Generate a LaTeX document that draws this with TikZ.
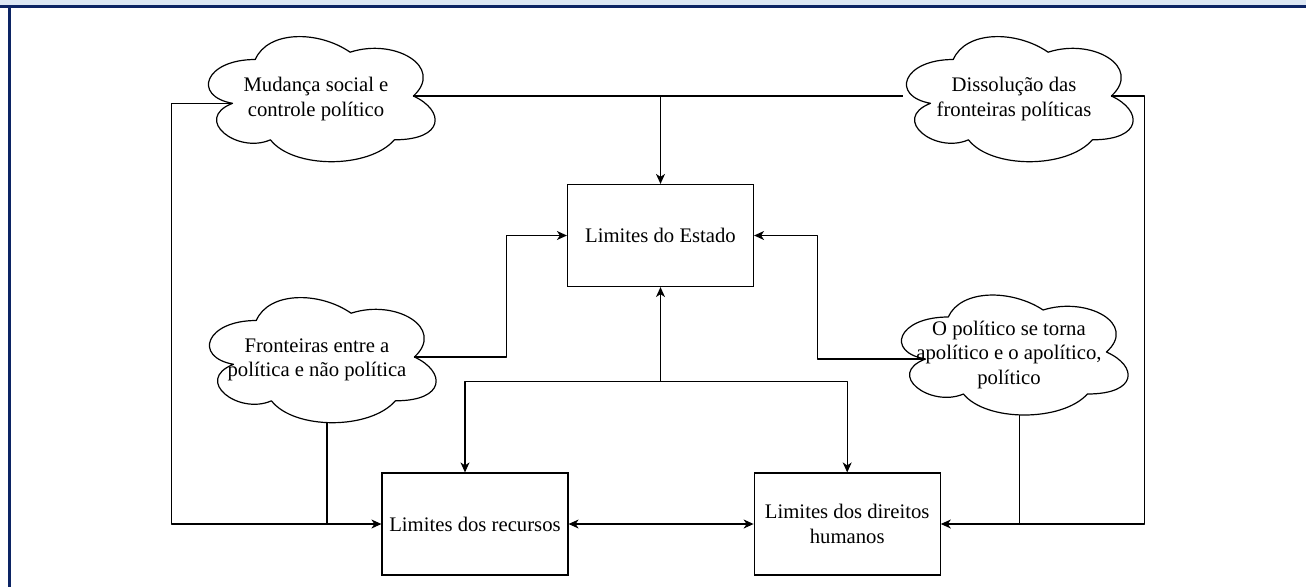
\documentclass[tikz,border=0pt]{standalone}
\usepackage{fontspec}
\setmainfont{Liberation Serif}
\usetikzlibrary{arrows.meta,positioning,calc}
\definecolor{navyline}{RGB}{12,36,100}
\definecolor{topband}{RGB}{220,231,244}

\newcommand{\diagfont}{\fontsize{20.7}{24.5}\selectfont}

\tikzset{
  box/.style={draw, line width=1.2pt, rectangle, minimum width=186pt, minimum height=102pt, align=center, font=\diagfont},
  cloudtext/.style={align=center, font=\diagfont, inner sep=0pt},
  line/.style={line width=1.2pt, line join=round},
  arr/.style={line, -{Stealth[length=10pt,width=9pt,inset=3pt]}},
  dblarr/.style={line, {Stealth[length=10pt,width=9pt,inset=3pt]}-{Stealth[length=10pt,width=9pt,inset=3pt]}},
}

% cloud outline: name, x0, y0, w, h, text
\newcommand{\drawcloud}[6]{%
  \begin{scope}[shift={(#2,#3)}, x=#4pt, y=-#5pt]
    \draw[line] (0.25,0.25) .. controls (0.05,0.25) and (0,0.5) .. (0.16,0.55)
      .. controls (0,0.66) and (0.18,0.9) .. (0.31,0.8)
      .. controls (0.4,1) and (0.7,1) .. (0.8,0.8)
      .. controls (1,0.8) and (1,0.6) .. (0.875,0.5)
      .. controls (1,0.3) and (0.8,0.1) .. (0.625,0.2)
      .. controls (0.5,0.05) and (0.3,0.05) .. (0.25,0.25) -- cycle;
    \node[cloudtext] (#1) at (0.49,0.52) {#6};
    \coordinate (#1-l) at (0.16,0.55);
    \coordinate (#1-lm) at (0.05,0.5);
    \coordinate (#1-r) at (0.875,0.5);
    \coordinate (#1-b) at (0.53,0.95);
  \end{scope}}

\begin{document}
\begin{tikzpicture}[x=1pt, y=-1pt]
    \useasboundingbox (0,0) rectangle (1306,587);

    % frame
    \fill[topband] (0,0) rectangle (1306,5.5);
    \draw[navyline, line width=2.4pt] (0,6.3) -- (1306,6.3);
    \draw[navyline, line width=2.4pt] (9.5,6.3) -- (9.5,587);

    % clouds
    \drawcloud{mudanca}{192}{23}{253}{146}{Mudança social e\\controle político}
    \drawcloud{dissolucao}{890}{23}{253}{146}{Dissolução das\\fronteiras políticas}
    \drawcloud{fronteiras}{193}{284}{253}{146}{Fronteiras entre a\\política e não política}
    \drawcloud{politico}{885}{282}{253}{140}{O político se torna\\apolítico e o apolítico,\\político}

    % boxes
    \node[box] (estado) at (660.5,235.5) {Limites do Estado};
    \node[box] (recursos) at (475,524) {Limites dos recursos};
    \node[box, right=185pt of recursos] (direitos) {Limites dos direitos\\humanos};

    % top
    \draw[line] (mudanca-r) -- (dissolucao-lm);
    \coordinate (topsplit) at (estado.north |- mudanca-r);
    \draw[arr] (topsplit) -- (estado.north);

    % outer loops
    \draw[arr] (mudanca-l) -- ++(-61,0) |- (recursos.west);
    \draw[line] (fronteiras-b) -- (fronteiras-b |- recursos.west);
    \draw[arr] (dissolucao-r) -- ++(33,0) |- (direitos.east);
    \draw[line] (politico-b) -- (politico-b |- direitos.east);

    % into the state
    \draw[arr] (fronteiras-r) -- ++(92,0) |- (estado.west);
    \draw[arr] (politico-l) -- ++(-108,0) |- (estado.east);

    % middle
    \coordinate (split) at ($(estado.south)+(0,94)$);
    \draw[arr] (split) -- (estado.south);
    \draw[arr] (split) -| ([xshift=-10pt]recursos.north);
    \draw[arr] (split) -| (direitos.north);
    \draw[dblarr] (recursos.east) -- (direitos.west);
\end{tikzpicture}
\end{document}
